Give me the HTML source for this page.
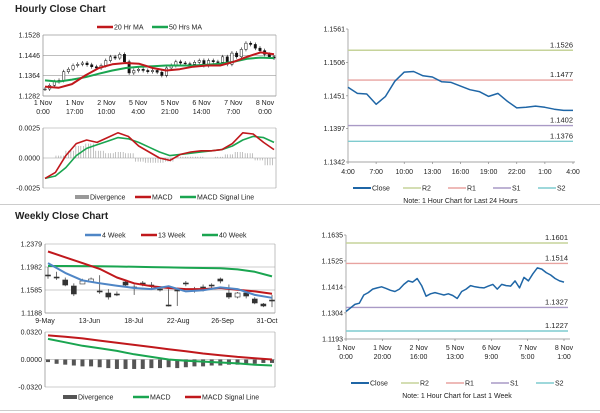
<!DOCTYPE html>
<html><head><meta charset="utf-8"><style>
body{margin:0;background:#fff}
svg{display:block;font-family:"Liberation Sans",sans-serif}
text{font-size:7px;fill:#222}
</style></head><body>
<svg id="c" width="600" height="413" viewBox="0 0 600 413"></svg>
<script>
// ---------- DATA ----------
const hourlyClose=[1.1310,1.1325,1.1340,1.1345,1.1380,1.1390,1.1405,1.1410,1.1415,1.1408,1.1400,1.1395,1.1405,1.1425,1.1440,1.1435,1.1450,1.1420,1.1375,1.1385,1.1390,1.1385,1.1380,1.1385,1.1378,1.1365,1.1395,1.1405,1.1420,1.1415,1.1412,1.1410,1.1418,1.1425,1.1405,1.1425,1.1420,1.1418,1.1440,1.1410,1.1455,1.1440,1.1470,1.1495,1.1490,1.1475,1.1465,1.1450,1.1440,1.1435];
const ma20=[1.1320,1.1315,1.1330,1.1365,1.1395,1.1410,1.1415,1.1412,1.1395,1.1385,1.1390,1.1400,1.1405,1.1405,1.1420,1.1440,1.1458,1.1450];
const ma50=[1.1345,1.1340,1.1348,1.1358,1.1372,1.1385,1.1395,1.1400,1.1402,1.1405,1.1405,1.1405,1.1408,1.1412,1.1420,1.1432,1.1437,1.1435];
const hMacd=[-0.0017,-0.0012,0.0002,0.0012,0.0015,0.0013,0.0017,0.0021,0.0018,0.0010,0.0005,0.0000,-0.0002,0.0003,0.0005,0.0006,0.0006,0.0007,0.0012,0.0021,0.0020,0.0013,0.0007];
const hSignal=[-0.0017,-0.0015,-0.0008,0.0002,0.0008,0.0011,0.0014,0.0017,0.0016,0.0013,0.0009,0.0005,0.0002,0.0003,0.0004,0.0005,0.0006,0.0007,0.0010,0.0015,0.0018,0.0017,0.0013];
const hDiv=[0.0000,0.0002,0.0006,0.0010,0.0012,0.0006,0.0004,0.0005,0.0004,-0.0003,-0.0004,-0.0004,-0.0003,0.0001,0.0001,0.0001,0.0000,0.0001,0.0003,0.0005,0.0004,-0.0002,-0.0006];
const hXLabels=[["1 Nov","0:00"],["1 Nov","17:00"],["2 Nov","10:00"],["5 Nov","4:00"],["5 Nov","21:00"],["6 Nov","14:00"],["7 Nov","7:00"],["8 Nov","0:00"]];
const dayClose=[1.1465,1.1455,1.1454,1.1437,1.1450,1.1475,1.1490,1.1491,1.1484,1.1482,1.1474,1.1473,1.1467,1.1461,1.1458,1.1450,1.1455,1.1442,1.1431,1.1432,1.1434,1.1432,1.1429,1.1427,1.1427];
const dayLevels=[1.1526,1.1477,1.1402,1.1376];
const dayXLabels=["4:00","7:00","10:00","13:00","16:00","19:00","22:00","1:00","4:00"];
const weekLevels=[1.1601,1.1514,1.1327,1.1227];
const weekXLabels=[["1 Nov","0:00"],["1 Nov","20:00"],["2 Nov","16:00"],["5 Nov","13:00"],["6 Nov","9:00"],["7 Nov","5:00"],["8 Nov","1:00"]];
const wOpen =[1.1844,1.1809,1.1758,1.1654,1.1689,1.1723,1.1568,1.1533,1.1516,1.1723,1.1637,1.1706,1.1671,1.1602,1.1326,1.1585,1.1706,1.1585,1.1637,1.1671,1.1775,1.1533,1.1464,1.1533,1.1430,1.1343,1.1412];
const wClose=[1.1830,1.1795,1.1671,1.1516,1.1740,1.1775,1.1555,1.1464,1.1510,1.1671,1.1630,1.1700,1.1665,1.1596,1.1320,1.1580,1.1700,1.1580,1.1630,1.1665,1.1740,1.1464,1.1533,1.1481,1.1361,1.1309,1.1405];
const wHigh =[1.1982,1.1900,1.1800,1.1700,1.1780,1.1800,1.1840,1.1600,1.1560,1.1760,1.1680,1.1740,1.1720,1.1650,1.1600,1.1620,1.1740,1.1640,1.1680,1.1700,1.1800,1.1680,1.1550,1.1560,1.1460,1.1360,1.1500];
const wLow  =[1.1780,1.1760,1.1650,1.1480,1.1700,1.1720,1.1520,1.1420,1.1480,1.1650,1.1500,1.1650,1.1600,1.1560,1.1300,1.1310,1.1650,1.1540,1.1560,1.1620,1.1700,1.1430,1.1440,1.1440,1.1340,1.1290,1.1290];
const w4=[1.2050,1.1880,1.1750,1.1700,1.1660,1.1620,1.1600,1.1650,1.1560,1.1580,1.1630,1.1600,1.1500,1.1450];
const w13=[1.2250,1.2150,1.2050,1.1950,1.1800,1.1700,1.1650,1.1620,1.1600,1.1600,1.1620,1.1590,1.1560,1.1520];
const w40=[1.2000,1.2000,1.1998,1.1995,1.1990,1.1985,1.1980,1.1975,1.1970,1.1965,1.1960,1.1940,1.1900,1.1820];
const wMacd=[0.0240,0.0200,0.0160,0.0130,0.0100,0.0060,0.0030,0.0000,-0.0015,-0.0025,-0.0035,-0.0045,-0.0060,-0.0070];
const wSignal=[0.0280,0.0265,0.0245,0.0220,0.0195,0.0170,0.0145,0.0120,0.0095,0.0070,0.0050,0.0030,0.0015,0.0000];
const wDiv=[-0.003,-0.005,-0.006,-0.007,-0.008,-0.008,-0.009,-0.010,-0.011,-0.011,-0.011,-0.011,-0.010,-0.010,-0.009,-0.010,-0.009,-0.008,-0.008,-0.007,-0.007,-0.006,-0.006,-0.005,-0.005,-0.004,-0.004];
const wXLabels=["9-May","13-Jun","18-Jul","22-Aug","26-Sep","31-Oct"];

// ---------- HELPERS ----------
const S=document.getElementById('c');const NS='http://www.w3.org/2000/svg';
function mk(tag,attrs,name,parent){const el=document.createElementNS(NS,tag);for(const k in attrs)el.setAttribute(k,attrs[k]);


(parent||S).appendChild(el);return el;}
function txt(x,y,s,name,anchor,extra){const t=mk('text',Object.assign({x:x,y:y,'text-anchor':anchor||'start'},extra||{}),name);t.textContent=s;return t;}
function lin(d0,d1,r0,r1){return v=>r0+(v-d0)/(d1-d0)*(r1-r0);}
function line(x1,y1,x2,y2,stroke,w,name){return mk('line',{x1,y1,x2,y2,stroke,'stroke-width':w},name);}
function poly(vals,xs,ys,color,w,name){const n=vals.length;const pts=vals.map((v,i)=>xs(i/(n-1))+','+ys(v).toFixed(1)).join(' ');return mk('polyline',{points:pts,fill:'none',stroke:color,'stroke-width':w,'stroke-linejoin':'round'},name);}
function yAxis(x0,x1,ticks,ys,fmt,grid,name){ticks.forEach((t,i)=>{if(grid)line(x0,ys(t),x1,ys(t),'#999',0.6,name+'-grid');txt(x0-3,ys(t)+2.5,fmt(t),name+'-tick','end');});}
function legend(items,y,name){items.forEach(it=>{line(it.x,y,it.x+(it.w||16),y,it.c,it.sw||2.5,name+'-swatch');txt(it.x+(it.w||16)+1,y+2.5,it.t,name+'-label');});}

// separators
line(0,204.5,600,204.5,'#bbb',0.8,'section-divider');
line(0,410.5,600,410.5,'#bbb',0.8,'bottom-divider');

// ---------- HOURLY CLOSE (top-left) ----------
txt(15,12,'Hourly Close Chart','hourly-title','start',{style:'font-size:10px;font-weight:bold'});
{const x0=43,x1=276,ys=lin(1.1282,1.1528,96,35);
yAxis(x0,x1,[1.1528,1.1446,1.1364],ys,v=>v.toFixed(4),true,'hourly-y');
txt(x0-3,98.5,'1.1282','hourly-y-tick','end');
line(x0,35,x1,35,'#999',0.6,'hourly-top-border');
line(x0,35,x0,96,'#888',0.7,'hourly-y-axis');line(x0,96,x1,96,'#888',0.7,'hourly-x-axis');
line(x1,35,x1,96,'#999',0.6,'hourly-right-border');
hXLabels.forEach((l,i)=>{const x=x0+i*(265-x0)/7;txt(x,105,l[0],'hourly-x-tick','middle');txt(x,114,l[1],'hourly-x-tick','middle');});
const xs=lin(0,1,x0+2,x1-2);const n=hourlyClose.length;
hourlyClose.forEach((c,i)=>{const o=i?hourlyClose[i-1]:c;const x=xs(i/(n-1));const hi=Math.max(o,c)+0.0008,lo=Math.min(o,c)-0.0008;
line(x,ys(hi),x,ys(lo),'#111',0.6,'hourly-candle-wick');
mk('rect',{x:x-1.2,y:ys(Math.max(o,c)),width:2.4,height:Math.max(0.8,Math.abs(ys(o)-ys(c))),fill:c>=o?'#fff':'#111',stroke:'#111','stroke-width':0.5},'hourly-candle');});
poly(ma50,xs,ys,'#1aa550',2,'ma50-line');poly(ma20,xs,ys,'#c0181c',2,'ma20-line');
legend([{x:97,t:'20 Hr MA',c:'#c0181c'},{x:152,t:'50 Hrs MA',c:'#1aa550'}],27,'hourly-legend');
// MACD
const ym=lin(-0.0025,0.0025,188,128);
yAxis(x0,x1,[0.0025,0.0000,-0.0025],ym,v=>v.toFixed(4),false,'hourly-macd-y');
line(x0,128,x1,128,'#999',0.6,'macd-top');line(x0,188,x1,188,'#999',0.6,'macd-bottom');line(x0,158,x1,158,'#999',0.6,'macd-zero');
line(x0,128,x0,188,'#888',0.7,'macd-y-axis');line(x1,128,x1,188,'#999',0.6,'macd-right');
const nd=hDiv.length;
hDiv.forEach((d,i)=>{for(let k=0;k<4;k++){const x=xs((i+k/4)/(nd))+1;line(x,ym(0),x,ym(d),'#999',0.6,'hourly-divergence-bar');}});
poly(hSignal,xs,ym,'#1aa550',1.6,'hourly-macd-signal');poly(hMacd,xs,ym,'#c0181c',1.6,'hourly-macd-line');
legend([{x:75,t:'Divergence',c:'#999',w:14,sw:4},{x:135,t:'MACD',c:'#c0181c'},{x:180,t:'MACD Signal Line',c:'#1aa550'}],197,'hourly-macd-legend');}

// ---------- LEVEL CHART helper ----------
function levelChart(pfx,x0,x1,yTop,yBot,dMax,dMin,ticks,vals,levels,xl,xlY,legY,note,noteY,xlLast){
const ys=lin(dMin,dMax,yBot,yTop);
yAxis(x0,x1,ticks,ys,v=>v.toFixed(4),false,pfx+'-y');
line(x0,yTop,x0,yBot,'#888',0.7,pfx+'-y-axis');line(x0,yBot,x1+2,yBot,'#888',0.7,pfx+'-x-axis');
ticks.forEach(t=>line(x0-2,ys(t),x0,ys(t),'#888',0.7,pfx+'-y-tickmark'));
const cols=['#c6d39a','#e8a3a0','#a99ac6','#7fcbcf'];
levels.forEach((l,i)=>{line(x0,ys(l),x1,ys(l),cols[i],1.4,pfx+'-level-'+['r2','r1','s1','s2'][i]);txt(x1,ys(l)-3,l.toFixed(4),pfx+'-level-label','end',{style:'font-size:7.5px'});});
poly(vals,lin(0,1,x0,xlLast),ys,'#1f66a6',1.5,pfx+'-close-line');
const m=xl.length;xl.forEach((l,i)=>{const x=x0+i*(xlLast-x0)/(m-1);
line(x,yBot,x,yBot+2,'#888',0.7,pfx+'-x-tickmark');
if(Array.isArray(l)){txt(x,xlY,l[0],pfx+'-x-tick','middle');txt(x,xlY+9,l[1],pfx+'-x-tick','middle');}else txt(x,xlY,l,pfx+'-x-tick','middle');});
legend([{x:x0+5,t:'Close',c:'#1f66a6',w:18,sw:2},{x:x0+55,t:'R2',c:cols[0],w:18,sw:1.4},{x:x0+100,t:'R1',c:cols[1],w:18,sw:1.4},{x:x0+145,t:'S1',c:cols[2],w:18,sw:1.4},{x:x0+190,t:'S2',c:cols[3],w:18,sw:1.4}],legY,pfx+'-legend');
txt((x0+x1)/2,noteY,note,pfx+'-note','middle');}

levelChart('day-chart',348,573,29,162,1.1561,1.1342,[1.1561,1.1506,1.1451,1.1397,1.1342],dayClose,dayLevels,dayXLabels,174,188,'Note: 1 Hour Chart for Last 24 Hours',203,573);
levelChart('week-chart',346,568,235,339,1.1635,1.1193,[1.1635,1.1525,1.1414,1.1304,1.1193],hourlyClose,weekLevels,weekXLabels,350,383,'Note: 1 Hour Chart for Last 1 Week',398,564);

// ---------- WEEKLY CLOSE (bottom-left) ----------
txt(15,219,'Weekly Close Chart','weekly-title','start',{style:'font-size:10px;font-weight:bold'});
{const x0=45,x1=275,ys=lin(1.1188,1.2379,313,244);
yAxis(x0,x1,[1.2379,1.1982,1.1585],ys,v=>v.toFixed(4),true,'weekly-y');
txt(x0-3,315.5,'1.1188','weekly-y-tick','end');
line(x0,244,x0,313,'#888',0.7,'weekly-y-axis');line(x0,313,x1,313,'#888',0.7,'weekly-x-axis');line(x1,244,x1,313,'#999',0.6,'weekly-right');
wXLabels.forEach((l,i)=>txt(x0+i*44.4,323,l,'weekly-x-tick','middle'));
const n=wOpen.length,xs=lin(0,1,48,272);
wOpen.forEach((o,i)=>{const c=wClose[i],x=xs(i/(n-1));
line(x,ys(wHigh[i]),x,ys(wLow[i]),'#333',0.7,'weekly-candle-wick');
mk('rect',{x:x-2.5,y:ys(Math.max(o,c)),width:5,height:Math.max(1,Math.abs(ys(o)-ys(c))),fill:c>=o?'#fff':'#333',stroke:'#333','stroke-width':0.6},'weekly-candle');});
poly(w40,xs,ys,'#1aa550',2,'week40-line');poly(w13,xs,ys,'#c0181c',2,'week13-line');poly(w4,xs,ys,'#4f86c6',2,'week4-line');
legend([{x:85,t:'4 Week',c:'#4f86c6'},{x:141,t:'13 Week',c:'#c0181c'},{x:202,t:'40 Week',c:'#1aa550'}],235,'weekly-legend');
const ym=lin(-0.032,0.032,387,332);
yAxis(x0,x1,[0.032,0,-0.032],ym,v=>v.toFixed(4),true,'weekly-macd-y');
line(x0,332,x0,387,'#888',0.7,'weekly-macd-y-axis');line(x1,332,x1,387,'#999',0.6,'weekly-macd-right');
wDiv.forEach((d,i)=>{const x=xs(i/(n-1));mk('rect',{x:x-2,y:ym(0),width:4,height:ym(d)-ym(0),fill:'#555'},'weekly-divergence-bar');});
poly(wSignal,xs,ym,'#c0181c',2,'weekly-macd-signal');poly(wMacd,xs,ym,'#1aa550',2,'weekly-macd-line');
legend([{x:63,t:'Divergence',c:'#555',w:14,sw:4},{x:133,t:'MACD',c:'#1aa550'},{x:185,t:'MACD Signal Line',c:'#c0181c'}],397,'weekly-macd-legend');}
</script>
</body></html>
